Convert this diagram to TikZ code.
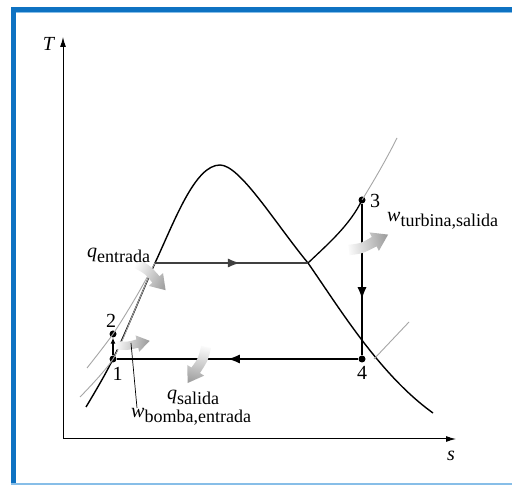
\documentclass[tikz,border=0pt]{standalone}
\usepackage{fontspec}
\setmainfont{Liberation Serif}
\usetikzlibrary{calc}
\usetikzlibrary{arrows.meta}
\usetikzlibrary{decorations.markings}
\definecolor{frameblue}{RGB}{14,114,194}
\definecolor{framelight}{RGB}{135,190,232}
\newcommand{\lsub}[1]{\raisebox{-5pt}{\fontsize{18}{20}\selectfont\upshape #1}}
\newcommand{\heatarrow}[4]{%
  \shade[transform canvas={shift={#1},rotate=#2,yscale=#3,scale=#4},left color=gray!4,right color=gray!80]
    (0,-4) .. controls (10,-4) .. (21.4,0.2) -- (22.7,-3.5) -- (31.3,8.1)
    -- (17.3,11.5) -- (18.6,7.8) .. controls (10,4) .. (0,4) -- cycle;}

\begin{document}
\begin{tikzpicture}[x=1pt,y=1pt,inner sep=0pt,font=\fontsize{20}{24}\selectfont,
  cyc/.style={line width=1.3pt},
  iso/.style={gray!70,line width=0.9pt},
  pt/.style={circle,fill,inner sep=0pt,minimum size=7pt},
  midarrow/.style={postaction={decorate},decoration={markings,
    mark=at position #1 with {\arrow{Latex[length=12pt,width=9pt]}}}}]
\useasboundingbox (0,0) rectangle (512,485);
\fill[white] (0,0) rectangle (512,485);
\draw[frameblue,line width=5pt,line join=miter] (13.5,0) -- (13.5,475.5) -- (512,475.5);
\draw[framelight,line width=1pt] (16,472.5) -- (512,472.5);
\draw[framelight,line width=2pt] (11,1) -- (512,1);

% axes
\coordinate (o) at (63,46);
\coordinate (ty) at (63,448);
\coordinate (sx) at (456,46);
\draw[-{Latex[length=10pt,width=6pt]},line width=1pt] (o) -- (ty);
\draw[-{Latex[length=10pt,width=6pt]},line width=1pt] (o) -- (sx);
\node (tlab) at (49,441) {\textit{T}};
\node (slab) at (451,29) {\textit{s}};

% states
\node[pt] (p1) at (113,126) {} node (n1) at ($(p1)+(4.5,-14.5)$) {1};
\node[pt] (p2) at (113,151) {} node (n2) at ($(p2)+(-2,13)$) {2};
\node[pt] (p3) at (362,285) {} node (n3) at ($(p3)+(13,-1)$) {3};
\node[pt] (p4) at (362,126) {} node (n4) at ($(p4)+(0,-14)$) {4};
\coordinate (f) at (155,222);
\coordinate (g) at (308,222);
\coordinate (q4) at (374,126);
\coordinate (lp) at (131,142);

% saturation dome
\draw[line width=1.4pt] (86,78) .. controls (101,103) and (107,114) .. (p1.center)
  .. controls (127,155) and (143,195) .. (f)
  .. controls (175,265) and (195,320) .. (220,320)
  .. controls (240,320) and (275,262) .. (g)
  .. controls (340,176) and (380,110) .. (433,72);

% isobars
\draw[iso] plot[smooth] coordinates {(87,117) (p2.center) (136,188) (f)};
\draw[iso] plot[smooth] coordinates {(80,88) (p1.center) (136,178) (152,216)};
\draw[iso] (p3.center) .. controls (375,306) and (387,327) .. (397,347);
\draw[iso] (q4) -- (409,163);

% cycle
\draw[cyc,-{Latex[length=6pt,width=5pt]}] (p1) -- (p2);
\draw[cyc,black!75,midarrow=0.555] (f) -- (g);
\draw[cyc] (g) .. controls (328,241) and (350,260) .. (p3.center);
\draw[cyc,midarrow=0.63] (p3) -- (p4);
\draw[cyc,midarrow=0.54] (p4) -- (p1);

% heat and work
\heatarrow{(349,235)}{7}{1}{1.3}
\heatarrow{(116,140)}{-7.5}{1}{1.05}
\heatarrow{(137,221)}{-28}{-1}{1.2}
\heatarrow{(206,138)}{-102.5}{-1}{1.25}

\node[anchor=base west] (qin) at (87,227) {\textit{q}\lsub{entrada}};
\node[anchor=base west] (wturb) at (387,263) {\textit{w}\lsub{turbina,salida}};
\node[anchor=base west] (qout) at (167,85) {\textit{q}\lsub{salida}};
\node[anchor=base west] (wpump) at (131,67) {\textit{w}\lsub{bomba,entrada}};
\draw[line width=0.7pt] ($(wpump.base west)+(6,10)$) -- (lp);
\end{tikzpicture}
\end{document}
